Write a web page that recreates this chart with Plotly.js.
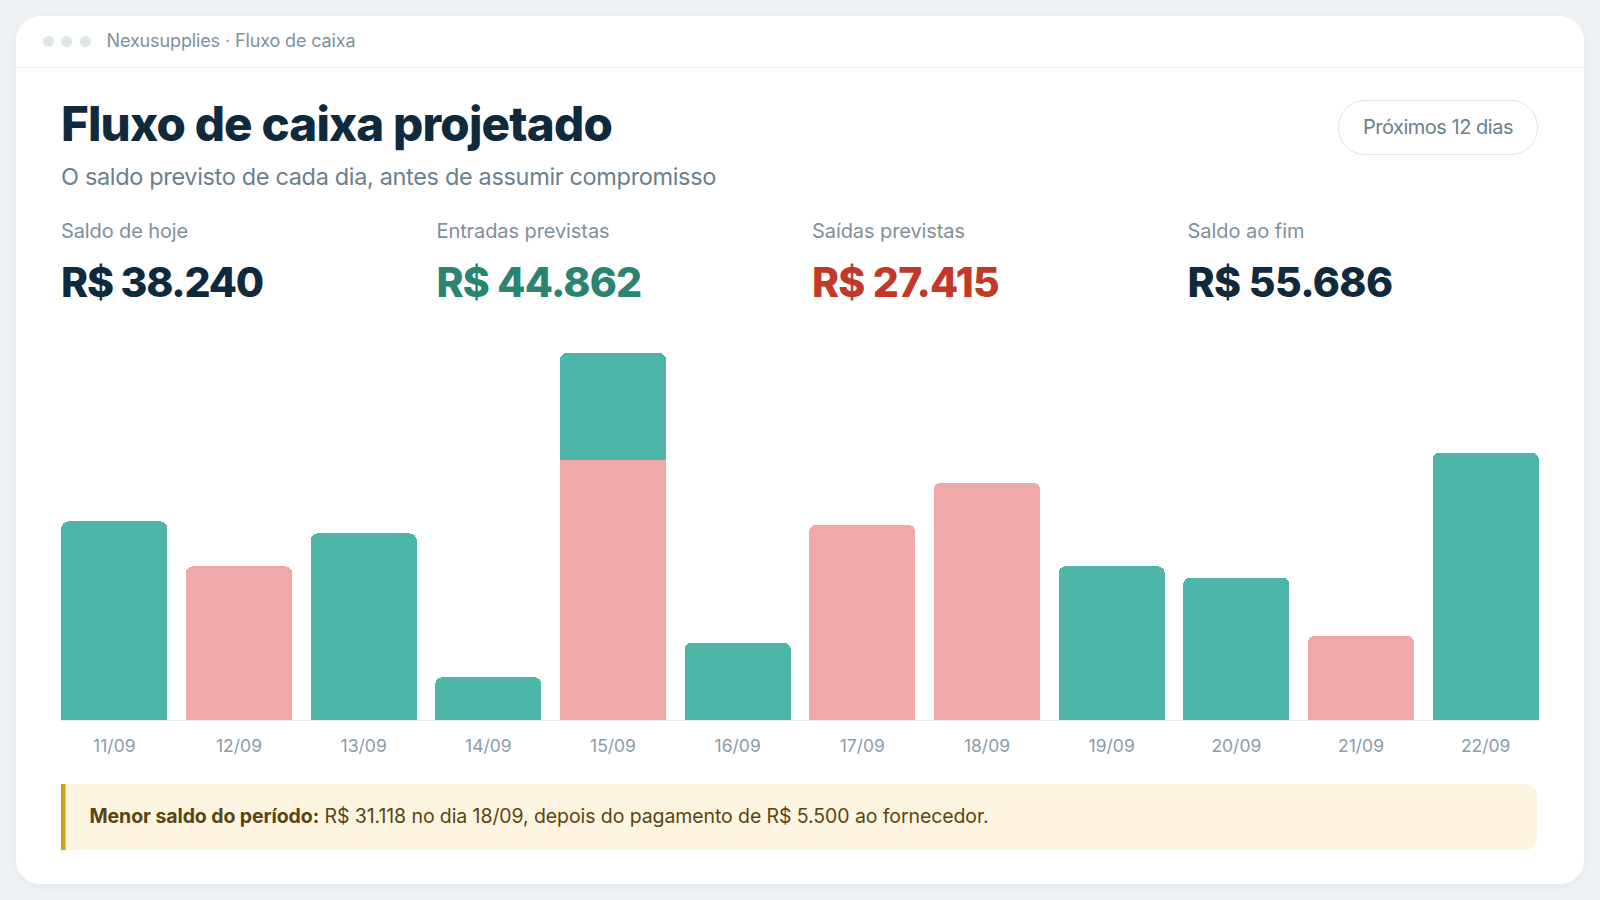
<!DOCTYPE html>
<html lang="pt-BR">
<head>
<meta charset="utf-8">
<title>Fluxo de caixa projetado</title>
<script src="https://cdn.plot.ly/plotly-3.0.1.min.js"></script>
<style>
  html,body{margin:0;padding:0;width:1600px;height:900px;overflow:hidden;background:#eef2f5;font-family:Inter,"Noto Sans",sans-serif;}
  #card{position:absolute;left:16px;top:16px;width:1568px;height:868px;background:#fff;border-radius:24px;box-shadow:0 2px 10px rgba(15,42,61,.05);}
  .t{position:absolute;white-space:nowrap;line-height:1;transform:translateY(-50%);}
  .dot{position:absolute;top:35.5px;width:11px;height:11px;border-radius:50%;background:#dfe6e9;}
  #rule{position:absolute;left:16px;top:67px;width:1568px;height:1px;background:#eceff2;}
  #pill{position:absolute;left:1338px;top:100px;width:198px;height:52.5px;border:1.5px solid #e0e5e9;border-radius:27px;}
  #axisline{position:absolute;left:61px;top:719.5px;width:1478px;height:1px;background:#e9edf0;}
  #chart{position:absolute;left:52px;top:353px;width:1495.6px;height:427px;}
  #note{position:absolute;left:61px;top:784px;width:1476px;height:65.5px;background:#fef4e2;border-radius:0 12px 12px 0;box-shadow:inset 4.5px 0 0 #d0a01f;}
</style>
</head>
<body>
<div id="card"></div>
<div id="rule"></div>
<div class="dot" style="left:42.5px"></div>
<div class="dot" style="left:61px"></div>
<div class="dot" style="left:79.5px"></div>
<div id="pill"></div>
<div id="note"></div>
<div id="axisline"></div>
<div id="chart"></div>
<div id="texts"></div>
<script>
// Data
const categories = ["11/09","12/09","13/09","14/09","15/09","16/09","17/09","18/09","19/09","20/09","21/09","22/09"];
const entradas = [4600,null,4320,990,2480,1790,null,null,3560,3300,null,6190];
const saidas   = [null,3560,null,null,6020,null,4520,5500,null,null,1950,null];
const kpiLabels = ["Saldo de hoje","Entradas previstas","Saídas previstas","Saldo ao fim"];
const kpiValues = ["R$ 38.240","R$ 44.862","R$ 27.415","R$ 55.686"];

const kpiColors = ["#0f2a3d","#2a8471","#c0392b","#0f2a3d"];
const kpiX = [61,436.5,812,1187.5];
const kpiW = [202,205,187,205];
const kpiLabelW = [127,173,153,117];

function addText(txt,x,y,size,weight,color,w,html){
  const d=document.createElement('div');
  d.className='t';
  d.style.cssText=`left:${x}px;top:${y}px;font-size:${size}px;font-weight:${weight};color:${color}`;
  if(html) d.innerHTML=html; else d.textContent=txt;
  document.getElementById('texts').appendChild(d);
  if(w){
    const m=d.getBoundingClientRect().width;
    const n=d.textContent.length;
    d.style.letterSpacing=((w-m)/n)+'px';
  }
  return d;
}
addText("Nexusupplies · Fluxo de caixa",106.5,40.5,18,400,"#7f909c",249);
addText("Fluxo de caixa projetado",61,123.5,47.5,800,"#0f2a3d",551);
addText("O saldo previsto de cada dia, antes de assumir compromisso",61,176.5,23.5,400,"#6b7f8c",655);
addText("Próximos 12 dias",1363,126.5,20,400,"#6b7f8c",150);
kpiLabels.forEach((s,i)=>addText(s,kpiX[i],231,20,400,"#7f909c",kpiLabelW[i]));
kpiValues.forEach((s,i)=>addText(s,kpiX[i],282,41,800,kpiColors[i],kpiW[i]));
addText("",89.5,817,19.5,400,"#5a4510",899,'<b style="font-weight:700">Menor saldo do período:</b> R$ 31.118 no dia 18/09, depois do pagamento de R$ 5.500 ao fornecedor.');

Plotly.newPlot('chart',[
  {type:'bar',name:'Saídas',x:categories,y:saidas,marker:{color:'#f0a8a8',line:{width:0}},hoverinfo:'skip'},
  {type:'bar',name:'Entradas',x:categories,y:entradas,marker:{color:'#4db6a9',line:{width:0}},hoverinfo:'skip'}
],{
  barmode:'stack',bargap:0.148,barcornerradius:7,showlegend:false,
  width:1495.6,height:427,
  margin:{l:0,r:0,t:0,b:60,pad:0},
  paper_bgcolor:'rgba(0,0,0,0)',plot_bgcolor:'rgba(0,0,0,0)',
  font:{family:'Inter, "Noto Sans", sans-serif'},
  xaxis:{type:'category',categoryorder:'array',categoryarray:categories,range:[-0.5,11.5],showgrid:false,zeroline:false,showline:false,
         ticks:'outside',ticklen:9.5,tickcolor:'rgba(0,0,0,0)',tickangle:0,tickfont:{size:17.5,color:'#8b9ca8'}},
  yaxis:{range:[0,8500],visible:false,showgrid:false,zeroline:false}
},{displayModeBar:false,staticPlot:true});
</script>
</body>
</html>
